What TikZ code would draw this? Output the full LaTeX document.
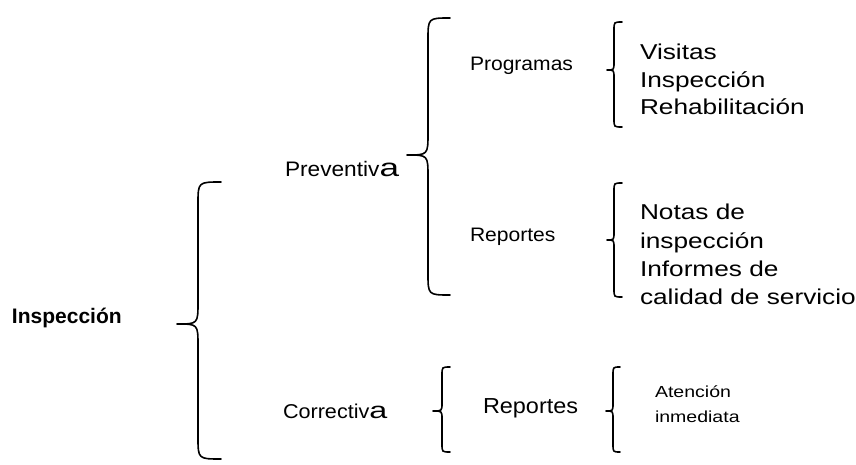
\documentclass[tikz,border=0pt]{standalone}
\usepackage{fontspec}
\usepackage{graphicx}
\setmainfont{Liberation Sans}[FakeStretch=1.08]
\newfontfamily\rootfont{Liberation Sans}
\newfontfamily\leaffont{Liberation Sans}[FakeStretch=1.22]
\newcommand\fsz[1]{\fontsize{#1}{#1}\selectfont}
% wide final letter used in the first-level labels
\newcommand\widea[1]{\scalebox{1.3}[1]{\fsz{#1}a}}
% left curly brace: #1 right end x, #2 stem x, #3 tip x, #4 top y, #5 tip y, #6 bottom y, #7 hook radius
\newcommand\curlybrace[7]{%
  \draw[bracestroke] (#1,#4) .. controls (#2,#4) .. (#2,#4+#7) -- (#2,#5-#7)
    .. controls (#2,#5) .. (#3,#5) .. controls (#2,#5) .. (#2,#5+#7)
    -- (#2,#6-#7) .. controls (#2,#6) .. (#1,#6);}
\begin{document}
\begin{tikzpicture}[x=1pt,y=-1pt,
  bracestroke/.style={line width=1.6pt,line cap=round,line join=round},
  lbl/.style={anchor=base west,inner sep=0pt,outer sep=0pt},
  leaf/.style={lbl,font=\leaffont\fsz{21.5}},
  smallleaf/.style={lbl,font=\leaffont\fsz{16}}]
\useasboundingbox[fill=white] (0,0) rectangle (856,465);

% root
\node[lbl,font=\rootfont\bfseries\fsz{21}] (insp) at (12,323) {Inspección};
\curlybrace{221}{198}{177}{182}{324}{459}{22}

% first level
\node[lbl,font=\fsz{21}] (prev) at (285,177) {Preventiv\widea{25}};
\node[lbl,font=\fsz{20}] (corr) at (283,418) {Correctiv\widea{23}};
\curlybrace{450}{428}{407}{18}{155}{295}{22}
\curlybrace{450}{442}{433}{367}{411}{452}{8}

% second level
\node[lbl,font=\fsz{19.5}] (prog) at (470,71) {Programas};
\node[lbl,font=\fsz{19.5}] (repA) at (470,241) {Reportes};
\node[lbl,font=\fsz{21.7}] (repB) at (483,413) {Reportes};
\curlybrace{622}{614}{607}{22}{70}{127}{8}
\curlybrace{622}{614}{607}{183}{240}{297}{8}
\curlybrace{620}{613}{606}{367}{411}{452}{8}

% leaves
\node[leaf] (vis) at (640,60) {Visitas};
\node[leaf] (ins) at (640,88) {Inspección};
\node[leaf] (reh) at (640,115) {Rehabilitación};
\node[leaf] (not) at (640,219) {Notas de};
\node[leaf] (ninsp) at (640,248) {inspección};
\node[leaf] (inf) at (640,276) {Informes de};
\node[leaf] (cal) at (640,304) {calidad de servicio};
\node[smallleaf] (ate) at (655,397) {Atención};
\node[smallleaf] (inm) at (655,422) {inmediata};
\end{tikzpicture}
\end{document}
